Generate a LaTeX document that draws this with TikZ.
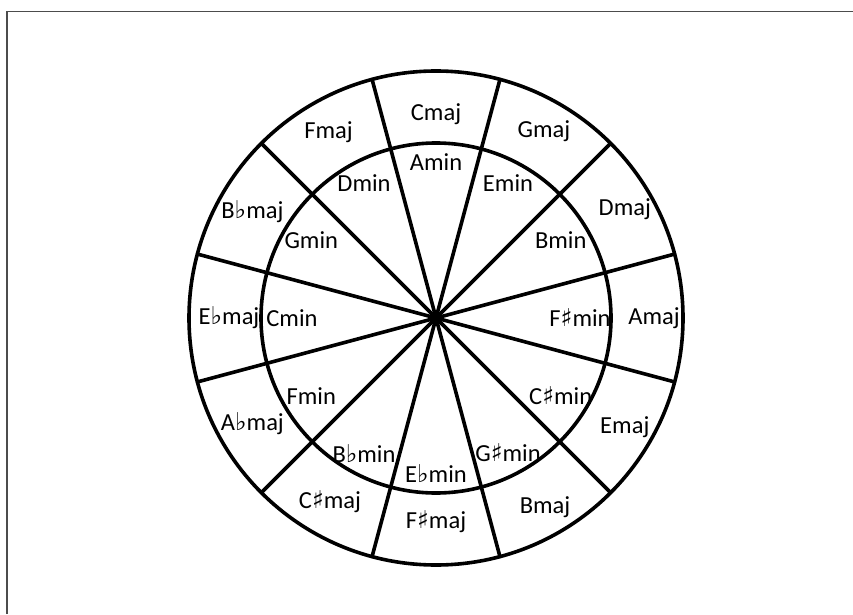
\documentclass[tikz,border=0pt]{standalone}
\usepackage{fontspec}
\setmainfont{Carlito}
\newfontfamily\symfont{DejaVu Sans}
\usepackage{tikz}
\usetikzlibrary{calc}
\newcommand{\flatsym}{{\symfont\char"266D}}
\newcommand{\sharpsym}{{\symfont\char"266F}}
\tikzset{
    ring_line/.style={draw=black, line width=3.6pt},
    spoke_line/.style={draw=black, line width=3.6pt, line cap=round},
    frame_line/.style={draw=black!70, line width=1.6pt},
    key_lbl/.style={font=\fontsize{24.5}{28}\selectfont, inner sep=0pt, text=black}
}

\begin{document}
\begin{tikzpicture}[x=1pt, y=1pt]
    \useasboundingbox (0,0) rectangle (853,614);

    % Page frame (top and left edges)
    \draw[frame_line] (7,0) -- (7,602.5) -- (853,602.5);

    % Centre of the wheel
    \coordinate (hub) at (436,296);

    % Spokes between the twelve sectors
    \foreach \ang in {15,45,...,345} {
        \draw[spoke_line] (hub) -- ($(hub)+(\ang:247)$);
    }

    % Outer and inner rings
    \draw[ring_line] (hub) circle (247);
    \draw[ring_line] (hub) circle (175);

    % Major keys (outer ring)
    \foreach \lbl/\ang/\rad/\id in {Cmaj/90/204/cmaj, Gmaj/60/216/gmaj, Dmaj/30/218/dmaj, Amaj/0/218/amaj,
        Emaj/-30/218/emaj, Bmaj/-60/218/bmaj, F\sharpsym maj/-90/204/fsmaj, C\sharpsym maj/-120/212/csmaj,
        A\flatsym maj/-150/212/abmaj, E\flatsym maj/180/207/ebmaj, B\flatsym maj/150/212/bbmaj, Fmaj/120/215/fmaj} {
        \node[key_lbl] (\id) at ($(hub)+(\ang:\rad)$) {\lbl};
    }

    % Minor keys (inner ring)
    \foreach \lbl/\ang/\id in {Amin/90/amin, Emin/60/emin, Bmin/30/bmin, F\sharpsym min/0/fsmin,
        C\sharpsym min/-30/csmin, G\sharpsym min/-60/gsmin, E\flatsym min/-90/ebmin, B\flatsym min/-120/bbmin,
        Fmin/-150/fmin, Cmin/180/cmin, Gmin/150/gmin, Dmin/120/dmin} {
        \node[key_lbl] (\id) at ($(hub)+(\ang:144 and 156)$) {\lbl};
    }
\end{tikzpicture}
\end{document}
